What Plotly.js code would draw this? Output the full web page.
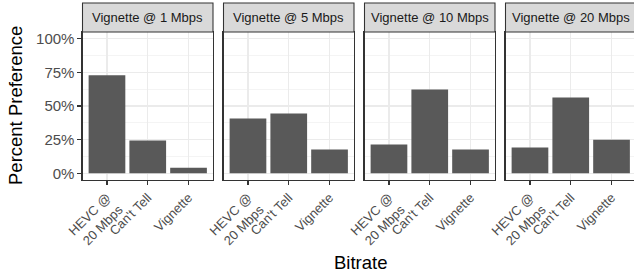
<!DOCTYPE html>
<html>
<head>
<meta charset="utf-8">
<script src="https://cdn.plot.ly/plotly-3.0.1.min.js"></script>
<style>
  html, body { margin: 0; padding: 0; overflow: hidden; background: #fff; }
  #chart { width: 637px; height: 275px; }
</style>
</head>
<body>
<div id="chart"></div>
<script>
// ---- data ----
const facets = ['Vignette @ 1 Mbps', 'Vignette @ 5 Mbps', 'Vignette @ 10 Mbps', 'Vignette @ 20 Mbps'];
const categories = ['HEVC @<br>20 Mbps', "Can't Tell", 'Vignette'];
const pref1Mbps  = [72.8, 24.3, 4.1];
const pref5Mbps  = [40.7, 44.4, 17.6];
const pref10Mbps = [21.3, 62.2, 17.6];
const pref20Mbps = [19.1, 56.3, 25.0];
const yTickVals = [0, 25, 50, 75, 100];
const yTickText = ['0%', '25%', '50%', '75%', '100%'];

const seriesByFacet = [pref1Mbps, pref5Mbps, pref10Mbps, pref20Mbps];

// ---- layout geometry ----
const W = 637, H = 275;
const mL = 82, mR = 1, mT = 32, mB = 95;
const plotW = W - mL - mR;   // 554
const plotH = H - mT - mB;   // 148
const pitch = 141, panelW = 130.5, off = 0.5;
const stripH = 29;

const FONT = 'Liberation Sans, Arial, Helvetica, sans-serif';

const traces = [];
const layout = {
  width: W, height: H,
  margin: {l: mL, r: mR, t: mT, b: mB, pad: 0},
  paper_bgcolor: '#ffffff',
  plot_bgcolor: '#ffffff',
  showlegend: false,
  bargap: 0.1,
  font: {family: FONT, color: '#4D4D4D'},
  shapes: [],
  annotations: []
};

seriesByFacet.forEach((vals, i) => {
  const n = i === 0 ? '' : String(i + 1);
  traces.push({
    type: 'bar',
    x: categories,
    y: vals,
    xaxis: 'x' + n,
    yaxis: 'y' + n,
    marker: {color: '#595959', line: {width: 0}},
    hoverinfo: 'skip'
  });
  const d0 = (off + pitch * i) / plotW;
  const d1 = Math.min(1, (off + pitch * i + panelW) / plotW);
  layout['xaxis' + n] = {
    domain: [d0, d1],
    anchor: 'y' + n,
    type: 'category',
    range: [-0.6, 2.6],
    showgrid: true, gridcolor: '#EBEBEB', gridwidth: 1.07,
    showline: true, linecolor: '#333333', linewidth: 1.07, mirror: true,
    ticks: 'outside', ticklen: 4, tickwidth: 1.07, tickcolor: '#333333',
    tickangle: -45,
    tickfont: {family: FONT, size: 13, color: '#4D4D4D'},
    zeroline: false, fixedrange: true
  };
  layout['yaxis' + n] = {
    domain: [0, 1],
    anchor: 'x' + n,
    range: [-5, 105],
    tickvals: yTickVals,
    ticktext: yTickText,
    showticklabels: i === 0,
    ticks: i === 0 ? 'outside' : '',
    ticklen: 4, tickwidth: 1.07, tickcolor: '#333333',
    tickfont: {family: FONT, size: 15, color: '#4D4D4D'},
    showgrid: true, gridcolor: '#EBEBEB', gridwidth: 1.07,
    minor: {tickvals: [12.5, 37.5, 62.5, 87.5], showgrid: true, gridcolor: '#EBEBEB', gridwidth: 0.55, ticks: ''},
    showline: true, linecolor: '#333333', linewidth: 1.07, mirror: true,
    zeroline: false, fixedrange: true
  };
  if (i > 0) layout['yaxis' + n].matches = 'y';
  // facet strip
  layout.shapes.push({
    type: 'rect', xref: 'x' + n + ' domain', yref: 'paper',
    x0: 0, x1: 1, y0: 1, y1: 1 + stripH / plotH,
    fillcolor: '#D9D9D9', line: {color: '#333333', width: 1.07}, layer: 'above'
  });
  layout.annotations.push({
    xref: 'x' + n + ' domain', yref: 'paper',
    x: 0.5, y: 1 + (stripH / 2) / plotH,
    xanchor: 'center', yanchor: 'middle',
    text: facets[i], showarrow: false,
    font: {family: FONT, size: 13, color: '#1A1A1A'}
  });
});

// axis titles
layout.annotations.push({
  xref: 'paper', yref: 'paper',
  x: (360 - mL) / plotW, y: (mT + plotH - 262) / plotH,
  xanchor: 'center', yanchor: 'middle',
  text: 'Bitrate', showarrow: false,
  font: {family: FONT, size: 18.5, color: '#000000'}
});
layout.annotations.push({
  xref: 'paper', yref: 'paper',
  x: (15 - mL) / plotW, y: 0.5,
  xanchor: 'center', yanchor: 'middle',
  text: 'Percent Preference', showarrow: false, textangle: -90,
  font: {family: FONT, size: 18.5, color: '#000000'}
});

Plotly.newPlot('chart', traces, layout, {displayModeBar: false, staticPlot: true});
</script>
</body>
</html>
